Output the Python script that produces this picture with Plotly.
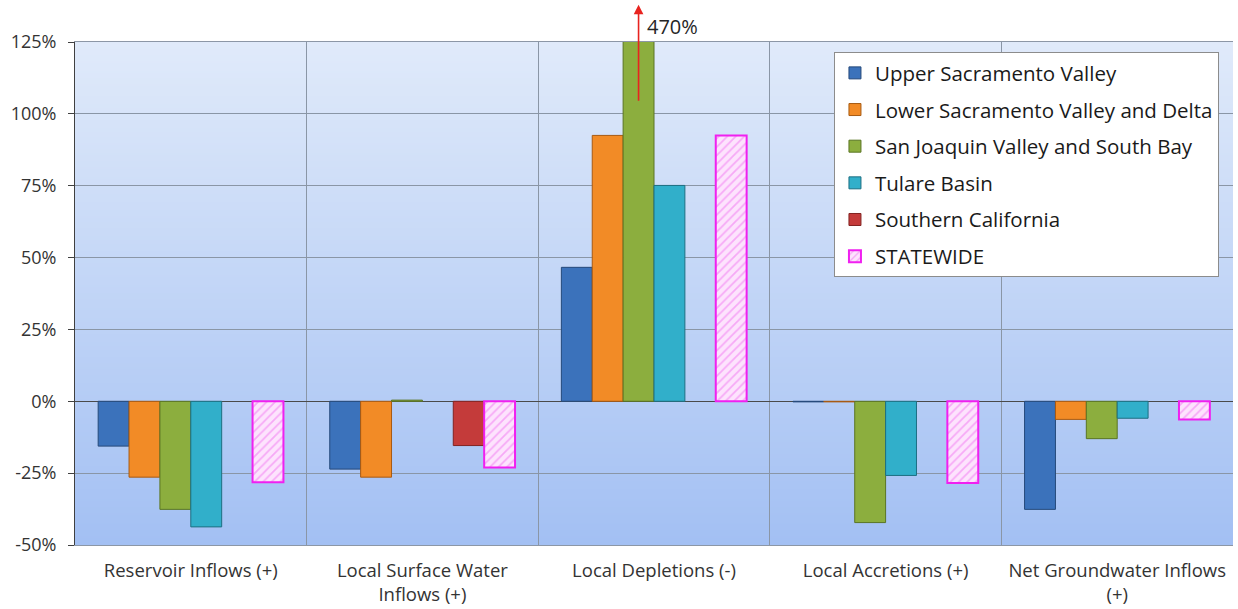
import base64
import struct
import zlib

import plotly.graph_objects as go

categories = ["Reservoir Inflows (+)", "Local Surface Water<br>Inflows (+)",
              "Local Depletions (-)", "Local Accretions (+)",
              "Net Groundwater Inflows<br>(+)"]

upper_sac = [-15.6, -23.6, 46.6, -0.2, -37.6]
lower_sac = [-26.4, -26.4, 92.5, -0.2, -6.3]
san_joaquin = [-37.6, 0.4, 470.0, -42.2, -13.0]
tulare = [-43.7, None, 75.1, -25.8, -5.9]
southern_ca = [None, -15.4, None, None, None]
statewide = [-28.2, -23.0, 92.5, -28.4, -6.3]

series = [
    ("Upper Sacramento Valley", upper_sac, "#3b72bb", "#25497a"),
    ("Lower Sacramento Valley and Delta", lower_sac, "#f28b26", "#a85a12"),
    ("San Joaquin Valley and South Bay", san_joaquin, "#8cae3e", "#5a7523"),
    ("Tulare Basin", tulare, "#31afca", "#1d6f82"),
    ("Southern California", southern_ca, "#c43b3a", "#822321"),
]

y_ticks = [-50, -25, 0, 25, 50, 75, 100, 125]
y_tick_text = ["-50%", "-25%", "0%", "25%", "50%", "75%", "100%", "125%"]
x_pos = list(range(len(categories)))


def gradient_png(top_rgb, bot_rgb, rows=256):
    """Build a 1-pixel-wide vertical gradient PNG as a data URI."""
    raw = b""
    for k in range(rows):
        t = k / (rows - 1)
        px = bytes(round(top_rgb[c] + (bot_rgb[c] - top_rgb[c]) * t) for c in range(3))
        raw += b"\x00" + px

    def chunk(tag, data):
        body = tag + data
        return struct.pack(">I", len(data)) + body + struct.pack(">I", zlib.crc32(body) & 0xFFFFFFFF)

    png = b"\x89PNG\r\n\x1a\n"
    png += chunk(b"IHDR", struct.pack(">IIBBBBB", 1, rows, 8, 2, 0, 0, 0))
    png += chunk(b"IDAT", zlib.compress(raw))
    png += chunk(b"IEND", b"")
    return "data:image/png;base64," + base64.b64encode(png).decode()


fig = go.Figure()
for i, (name, vals, color, edge) in enumerate(series):
    fig.add_trace(go.Bar(
        x=x_pos, y=vals, name=name, legendgroup=f"g{i}",
        marker=dict(color=color, line=dict(color=edge, width=1)),
    ))

fig.add_trace(go.Bar(
    x=x_pos, y=statewide, name="STATEWIDE", legendgroup="g5",
    marker=dict(color="#fde3fd", line=dict(color="#f020f0", width=2),
                pattern=dict(shape="/", fgcolor="#f070f0", bgcolor="#fde3fd",
                             size=6, solidity=0.3)),
))

# the Local Depletions value for San Joaquin runs off the scale
green_offset = -0.4 + 2.5 * (0.8 / 6)
annotations = [
    dict(x=2 + green_offset, y=138, ax=2 + green_offset, ay=104,
         xref="x", yref="y", axref="x", ayref="y",
         showarrow=True, arrowhead=2, arrowsize=1.2, arrowwidth=1.6,
         arrowcolor="#e8231f", text=""),
    dict(x=2.082, y=1.03, xref="x", yref="paper", yanchor="middle",
         text="470%", showarrow=False,
         font=dict(family="Open Sans", size=20, color="#262626")),
]

fig.update_layout(
    width=1238, height=609,
    margin=dict(l=75, r=5, t=42, b=64),
    paper_bgcolor="white",
    plot_bgcolor="#c4d7f6",
    images=[dict(source=gradient_png((224, 234, 250), (163, 192, 243)),
                 xref="paper", yref="paper", x=0, y=1, sizex=1, sizey=1,
                 sizing="stretch", xanchor="left", yanchor="top",
                 layer="below")],
    barmode="group", bargap=0.2, bargroupgap=0,
    annotations=annotations,
    font=dict(family="Open Sans", size=18, color="#333333"),
    legend=dict(x=0.6554, y=0.98, xanchor="left", yanchor="top",
                bgcolor="white", bordercolor="#8c8c8c", borderwidth=1,
                font=dict(family="Open Sans", size=20.5, color="#1a1a1a"),
                tracegroupgap=7, traceorder="grouped"),
    showlegend=True,
)

fig.update_xaxes(
    range=[-0.5, 4.5], tickmode="array", tickvals=x_pos, ticktext=categories,
    showgrid=False, zeroline=False, ticks="", showline=True,
    linecolor="#8c97a6", mirror=True, ticklabelstandoff=9, automargin=False,
    minor=dict(tickmode="array", tickvals=[0.5, 1.5, 2.5, 3.5],
               showgrid=True, gridcolor="#8a96a6", gridwidth=1, ticks=""),
    tickfont=dict(family="Open Sans", size=18.5, color="#333333"),
)
fig.update_yaxes(
    range=[-50, 125], tickmode="array", tickvals=y_ticks, ticktext=y_tick_text,
    showgrid=True, gridcolor="#8a96a6", gridwidth=1,
    zeroline=True, zerolinecolor="#4a4a4a", zerolinewidth=1,
    showline=True, linecolor="#404040", ticks="outside", ticklen=6,
    tickcolor="#404040", ticklabelstandoff=8, automargin=False,
    tickfont=dict(family="Open Sans", size=18, color="#333333"),
)

fig.write_html("out.html")
